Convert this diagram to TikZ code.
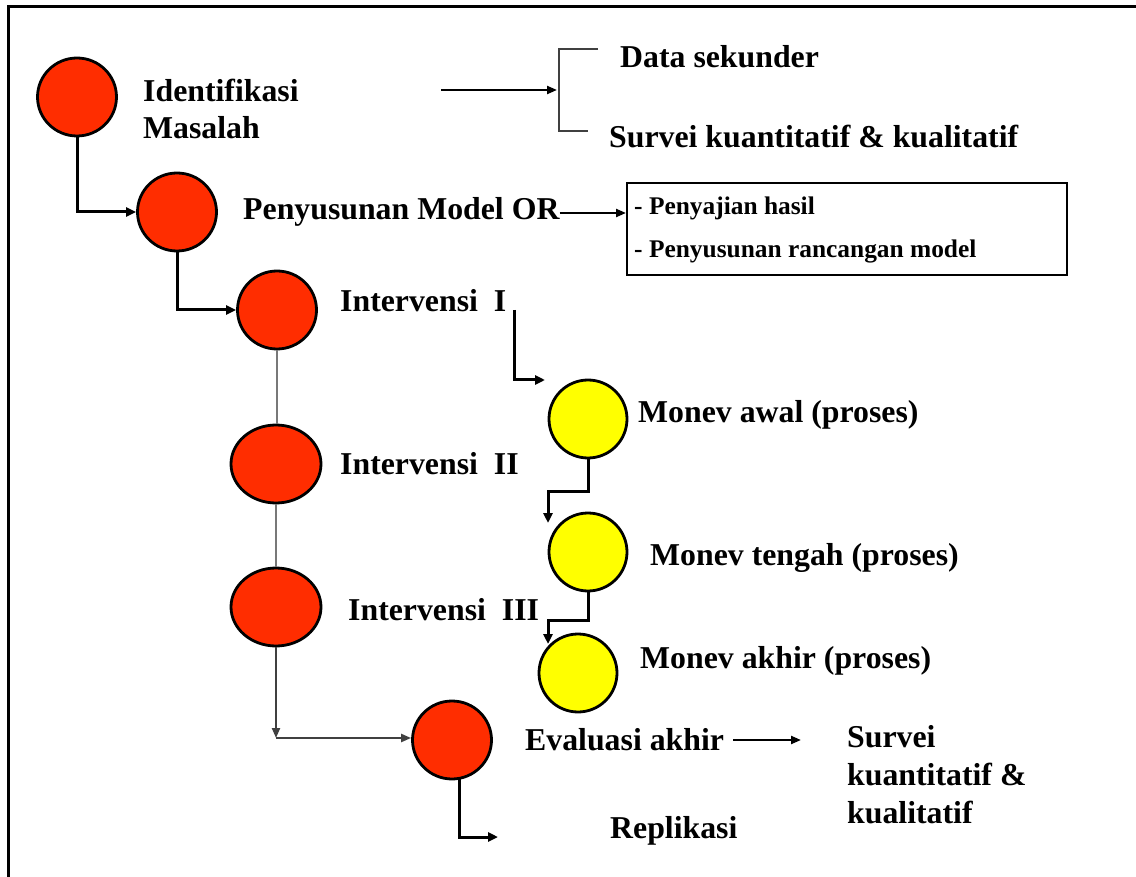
\documentclass[tikz,border=0pt]{standalone}
\usepackage{fontspec}
\setmainfont{Liberation Serif}
\usetikzlibrary{arrows.meta,shapes.geometric}
\definecolor{redfill}{RGB}{255,45,0}
\definecolor{yelfill}{RGB}{255,255,0}
\definecolor{lineg}{RGB}{120,120,120}
\begin{document}
\begin{tikzpicture}[x=1pt,y=-1pt,
  redc/.style={ellipse,draw=black,line width=2.8pt,fill=redfill,inner sep=0pt,minimum width=79pt,minimum height=78pt},
  yelc/.style={ellipse,draw=black,line width=2.8pt,fill=yelfill,inner sep=0pt,minimum width=78pt,minimum height=78pt},
  lbl/.style={anchor=base west,inner sep=0pt,font=\fontsize{31.8}{37}\selectfont\bfseries},
  smalllbl/.style={anchor=base west,inner sep=0pt,font=\fontsize{25.4}{29}\selectfont\bfseries},
  conn/.style={line width=3pt,-{Triangle[length=10pt,width=9pt]}},
  thinconn/.style={line width=2.2pt,-{Triangle[length=10pt,width=8pt]}},
  grayline/.style={line width=2.2pt,draw=lineg}
]
\useasboundingbox (0,0) rectangle (1136,877);
\fill[white] (0,0) rectangle (1136,877);
\draw[line width=3pt] (8,877) -- (8,7) -- (1136,7);

% circles
\node[redc] (c1) at (77,97) {};
\node[redc] (c2) at (177,212) {};
\node[redc] (c3) at (277,310) {};
\node[redc,minimum width=90pt] (c4) at (276,464) {};
\node[redc,minimum width=90pt] (c5) at (276,607) {};
\node[redc] (c6) at (452,740) {};
\node[yelc] (y1) at (588,419) {};
\node[yelc] (y2) at (588,552) {};
\node[yelc] (y3) at (578,673) {};

% labels
\node[lbl] (t1) at (143,102) {Identifikasi};
\node[lbl] (t1b) at (143,139) {Masalah};
\node[lbl] (t2) at (243,220) {Penyusunan Model OR};
\node[lbl] (t3) at (340,312) {Intervensi\ \ I};
\node[lbl] (t4) at (340,475) {Intervensi\ \ II};
\node[lbl] (t5) at (348,620) {Intervensi\ \ III};
\node[lbl] (m1) at (638,422) {Monev awal (proses)};
\node[lbl] (m2) at (650,565) {Monev tengah (proses)};
\node[lbl] (m3) at (640,668) {Monev akhir (proses)};
\node[lbl] (ev) at (525,750) {Evaluasi akhir};
\node[lbl] (rep) at (610,838) {Replikasi};
\node[lbl] (ds) at (620,68) {Data sekunder};
\node[lbl] (sv) at (609,148) {Survei kuantitatif \& kualitatif};
\node[lbl] (s2a) at (847,747) {Survei};
\node[lbl] (s2b) at (847,785) {kuantitatif \&};
\node[lbl] (s2c) at (847,823) {kualitatif};

% box
\node[draw,line width=2.2pt,anchor=north west,minimum width=440pt,minimum height=92pt,inner sep=0pt] (box) at (626,182) {};
\node[smalllbl] (b1) at (634,215) {- Penyajian hasil};
\node[smalllbl] (b2) at (634,258) {- Penyusunan rancangan model};

% connectors
\draw[conn] (c1.south) |- (c2.west);
\draw[conn] (c2.south) |- (c3.west);

\coordinate (a1) at (514,310);
\coordinate (a1e) at (545,380);
\draw[conn] (a1) |- (a1e);

\coordinate (k2) at (548,491);
\coordinate (k2e) at (548,523);
\draw[conn] (y1.south) |- (k2) -- (k2e);

\coordinate (k3) at (548,620);
\coordinate (k3e) at (548,644);
\draw[conn] (y2.south) |- (k3) -- (k3e);

\draw[grayline] (c3.south) -- (c3.south |- c4.north);
\draw[grayline] (c4.south) -- (c4.south |- c5.north);
\coordinate (k4) at (276,738);
\draw[thinconn,draw=black!75,fill=black!75] (c5.south) -- (k4);
\draw[thinconn,draw=black!75,fill=black!75] (k4) -- (k4 -| c6.west);

\coordinate (r0) at (459,779);
\coordinate (r1) at (498,837);
\draw[conn] (r0) |- (r1);

\coordinate (e1) at (733,740);
\coordinate (e2) at (801,740);
\draw[thinconn] (e1) -- (e2);

% identifikasi arrow and bracket
\coordinate (i1) at (441,90);
\coordinate (i2) at (557,90);
\draw[thinconn] (i1) -- (i2);
\coordinate (br1) at (598,49);
\coordinate (br2) at (559,49);
\coordinate (br3) at (559,131);
\coordinate (br4) at (588,131);
\draw[line width=2.2pt,draw=black!75] (br1) -- (br2) -- (br3) -- (br4);

\coordinate (o1) at (t2.east |- 0,213);
\draw[thinconn] (o1) -- (box.west |- o1) ;
\end{tikzpicture}
\end{document}
